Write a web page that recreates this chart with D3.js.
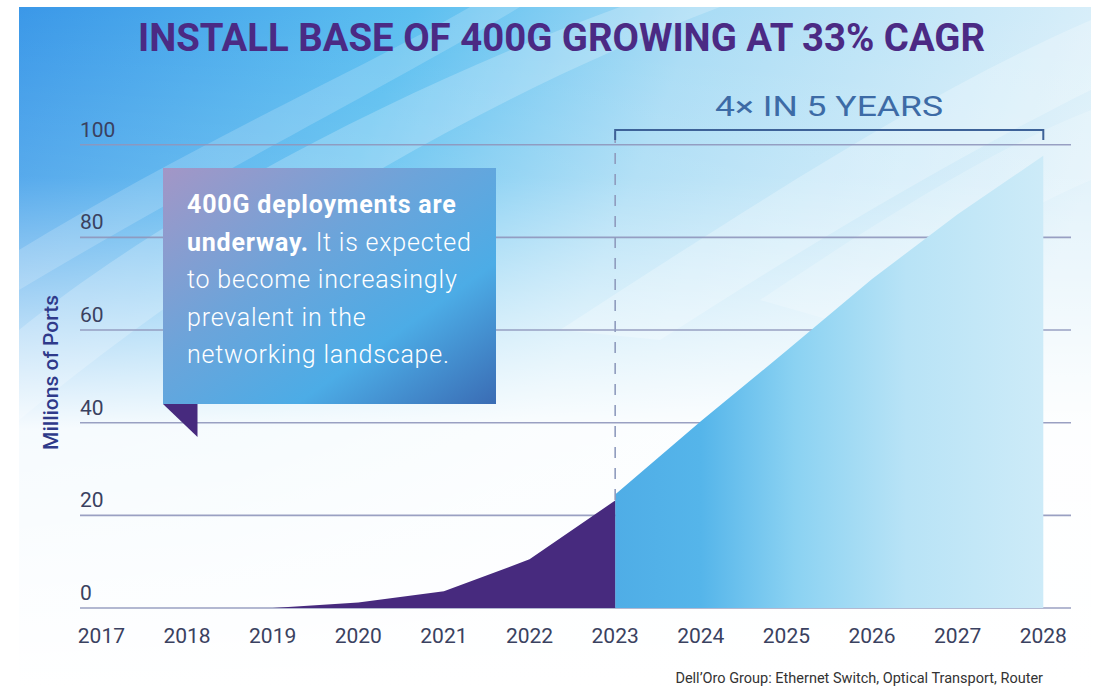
<!DOCTYPE html>
<html>
<head>
<meta charset="utf-8">
<script src="https://cdn.jsdelivr.net/npm/d3@7"></script>
<style>
  html, body { margin: 0; padding: 0; background: #fff; }
  svg { display: block; font-family: Roboto, "Noto Sans", sans-serif; }
</style>
</head>
<body>
<svg id="chart" width="1099" height="687"></svg>
<script>
// data (millions of ports)
var years = [2017, 2018, 2019, 2020, 2021, 2022, 2023, 2024, 2025, 2026, 2027, 2028];
var historyYears = [2017, 2018, 2019, 2020, 2021, 2022, 2023];
var historyValues = [0, 0, 0, 1.2, 3.6, 10.5, 23.2];
var forecastYears = [2023, 2024, 2025, 2026, 2027, 2028];
var forecastValues = [24.5, 40.3, 55.5, 71, 85, 97.6];
var yTicks = [0, 20, 40, 60, 80, 100];

var titleText = "INSTALL BASE OF 400G GROWING AT 33% CAGR";
var calloutText = "4\u00d7 IN 5 YEARS";
var sourceText = "Dell\u2019Oro Group: Ethernet Switch, Optical Transport, Router";

var svg = d3.select("#chart");
var defs = svg.append("defs");

var x = d3.scaleLinear().domain([2017, 2028]).range([101.4, 1043.3]);
var y = d3.scaleLinear().domain([0, 100]).range([608, 144.7]);

// ---- background panel
var bgH = defs.append("linearGradient").attr("id", "bgH")
  .attr("x1", 0).attr("y1", 0).attr("x2", 1).attr("y2", 0.25);
bgH.append("stop").attr("offset", 0).attr("stop-color", "#3b98e8");
bgH.append("stop").attr("offset", 0.35).attr("stop-color", "#5cbff0");
bgH.append("stop").attr("offset", 0.6).attr("stop-color", "#a9dcf5");
bgH.append("stop").attr("offset", 1).attr("stop-color", "#dff1fa");

var bgV = defs.append("linearGradient").attr("id", "bgV")
  .attr("x1", 0).attr("y1", 0).attr("x2", 0).attr("y2", 1);
bgV.append("stop").attr("offset", 0).attr("stop-color", "#fff").attr("stop-opacity", 0);
bgV.append("stop").attr("offset", 0.25).attr("stop-color", "#fff").attr("stop-opacity", 0.12);
bgV.append("stop").attr("offset", 0.62).attr("stop-color", "#fff").attr("stop-opacity", 0.95);
bgV.append("stop").attr("offset", 1).attr("stop-color", "#fff").attr("stop-opacity", 1);

svg.append("rect").attr("x", 19).attr("y", 7).attr("width", 1072).attr("height", 680)
  .attr("fill", "url(#bgH)");

// soft white swooshes
var swoosh = svg.append("g").attr("fill", "#fff");
swoosh.append("path").attr("opacity", 0.22)
  .attr("d", "M19,330 C180,200 420,80 620,7 L720,7 C500,90 250,230 19,420 Z");
swoosh.append("path").attr("opacity", 0.18)
  .attr("d", "M19,250 C200,140 380,60 470,7 L520,7 C400,80 220,170 19,290 Z");
swoosh.append("path").attr("opacity", 0.25)
  .attr("d", "M560,330 C760,200 930,90 1091,20 L1091,90 C950,160 800,250 660,340 Z");
swoosh.append("path").attr("opacity", 0.2)
  .attr("d", "M760,300 C880,220 990,150 1091,110 L1091,180 C1000,220 900,280 830,320 Z");

svg.append("rect").attr("x", 19).attr("y", 7).attr("width", 1072).attr("height", 680)
  .attr("fill", "url(#bgV)");

// ---- title
svg.append("text")
  .attr("x", 138).attr("y", 50.5)
  .attr("textLength", 847).attr("lengthAdjust", "spacingAndGlyphs")
  .attr("font-size", 39).attr("font-weight", 700)
  .attr("fill", "#4b2a84")
  .text(titleText);

// ---- gridlines + y labels
var grid = svg.append("g");
grid.selectAll("line").data(yTicks).enter().append("line")
  .attr("x1", 80).attr("x2", 1071)
  .attr("y1", function(d) { return y(d); }).attr("y2", function(d) { return y(d); })
  .attr("stroke", "#8f96bb").attr("stroke-width", 1.6).attr("stroke-opacity", 0.9);

grid.selectAll("text").data(yTicks).enter().append("text")
  .attr("x", 80).attr("y", function(d) { return y(d) - 8; })
  .attr("font-size", 21).attr("fill", "#3a4160")
  .text(function(d) { return d; });

// ---- areas
var blueGrad = defs.append("linearGradient").attr("id", "blueGrad")
  .attr("gradientUnits", "userSpaceOnUse")
  .attr("x1", x(2023)).attr("y1", 0).attr("x2", x(2028)).attr("y2", 0);
blueGrad.append("stop").attr("offset", 0).attr("stop-color", "#4fade6");
blueGrad.append("stop").attr("offset", 0.2).attr("stop-color", "#55b5ea");
blueGrad.append("stop").attr("offset", 0.42).attr("stop-color", "#8bd2f2");
blueGrad.append("stop").attr("offset", 0.68).attr("stop-color", "#b8e3f6");
blueGrad.append("stop").attr("offset", 1).attr("stop-color", "#cdebf8");

var area = d3.area()
  .x(function(d) { return x(d[0]); })
  .y0(y(0))
  .y1(function(d) { return y(d[1]); });

svg.append("path")
  .datum(forecastYears.map(function(yr, i) { return [yr, forecastValues[i]]; }))
  .attr("d", area)
  .attr("fill", "url(#blueGrad)");

svg.append("path")
  .datum(historyYears.map(function(yr, i) { return [yr, historyValues[i]]; }))
  .attr("d", area)
  .attr("fill", "#472a7e");

// ---- dashed divider and bracket
var last = historyValues[historyValues.length - 1];
svg.append("line")
  .attr("x1", x(2023)).attr("x2", x(2023))
  .attr("y1", 132).attr("y2", y(last))
  .attr("stroke", "#8f9bbd").attr("stroke-width", 1.6)
  .attr("stroke-dasharray", "11,10");

svg.append("path")
  .attr("d", "M" + x(2023) + ",140 V130 H" + x(2028) + " V140")
  .attr("fill", "none").attr("stroke", "#3d6298").attr("stroke-width", 2);

svg.append("text")
  .attr("x", 715).attr("y", 116)
  .attr("textLength", 228).attr("lengthAdjust", "spacingAndGlyphs")
  .attr("font-size", 27).attr("fill", "#3d6ba6")
  .text(calloutText);

// ---- x labels
svg.append("g").selectAll("text").data(years).enter().append("text")
  .attr("x", function(d) { return x(d); }).attr("y", 643)
  .attr("text-anchor", "middle")
  .attr("font-size", 21).attr("fill", "#3a4160")
  .text(function(d) { return d; });

// ---- y axis title
svg.append("text")
  .attr("transform", "translate(58,372.5) rotate(-90)")
  .attr("text-anchor", "middle")
  .attr("font-size", 21).attr("font-weight", 500)
  .attr("fill", "#2f3a8a")
  .text("Millions of Ports");

// ---- note box
var boxGrad = defs.append("linearGradient").attr("id", "boxGrad")
  .attr("x1", 0).attr("y1", 0).attr("x2", 1).attr("y2", 1);
boxGrad.append("stop").attr("offset", 0).attr("stop-color", "#a396c6");
boxGrad.append("stop").attr("offset", 0.4).attr("stop-color", "#6ca4da");
boxGrad.append("stop").attr("offset", 0.7).attr("stop-color", "#4cace6");
boxGrad.append("stop").attr("offset", 1).attr("stop-color", "#3a6cb4");

var box = svg.append("g");
box.append("path").attr("d", "M163,404 H197.5 V437 Z").attr("fill", "#472a7e");
box.append("rect").attr("x", 163).attr("y", 168).attr("width", 333).attr("height", 236)
  .attr("fill", "url(#boxGrad)");

var noteLines = [
  [["400G deployments are", 700]],
  [["underway.", 700], [" It is expected", 300]],
  [["to become increasingly", 300]],
  [["prevalent in the", 300]],
  [["networking landscape.", 300]]
];
noteLines.forEach(function(parts, i) {
  var t = box.append("text")
    .attr("x", 187).attr("y", 213 + i * 37.5)
    .attr("font-size", 25).attr("letter-spacing", 0.8).attr("fill", "#fff");
  parts.forEach(function(p) {
    t.append("tspan").attr("font-weight", p[1]).text(p[0]);
  });
});

// ---- source
svg.append("text")
  .attr("x", 1043).attr("y", 683)
  .attr("text-anchor", "end")
  .attr("font-size", 14.5).attr("fill", "#333")
  .text(sourceText);
</script>
</body>
</html>
